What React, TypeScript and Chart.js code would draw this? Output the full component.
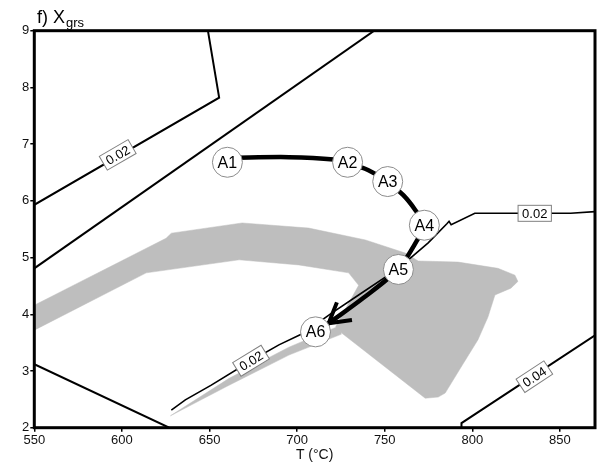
import React, { useEffect, useRef } from 'react';
import { Chart, registerables } from 'chart.js';

Chart.register(...registerables);

const FONT = '"Liberation Sans", Arial, Helvetica, sans-serif';

// Axis ticks
const X_TICKS = [550, 600, 650, 700, 750, 800, 850];
const Y_TICKS = [2, 3, 4, 5, 6, 7, 8, 9];

// Isopleth lines (T in °C, P)
const ISO_A_T = [550, 655.5, 649.2];
const ISO_A_P = [5.93, 7.82, 8.98];
const ISO_B_T = [550, 744];
const ISO_B_P = [4.81, 9.0];
const ISO_C_T = [550, 627];
const ISO_C_P = [3.12, 2.0];
const ISO_D_T = [628.2, 636.2, 651.0, 673.7, 689.6, 703.8, 719.7, 735.1, 757.8, 774.8, 785.6, 786.7, 787.9, 801.4, 856.1, 870];
const ISO_D_P = [2.31, 2.49, 2.75, 3.18, 3.46, 3.67, 4.02, 4.34, 4.81, 5.26, 5.60, 5.64, 5.58, 5.78, 5.78, 5.81];
const ISO_E_T = [793.8, 793.8, 870];
const ISO_E_P = [2.0, 2.08, 3.63];

// Isopleth labels
const ISO_LABEL_TEXT = ['0.02', '0.02', '0.02', '0.04'];
const ISO_LABEL_T = [597.6, 673.7, 835.6, 835.4];
const ISO_LABEL_P = [6.81, 3.18, 5.78, 2.9];
const ISO_LABEL_LINE = [0, 3, 3, 4];

// Gray stability field
const FIELD_T = [550.0, 625.2, 628.2, 668.6, 706.6, 739.0, 761.7, 769.1, 791.9, 814.6, 824.3, 826.0, 822.0, 812.9, 808.9, 803.2, 793.6, 784.5, 780.5, 773.1, 725.4, 722.0, 735.1, 729.4, 701.0, 666.9, 613.9, 550.0];
const FIELD_P = [4.16, 5.34, 5.43, 5.61, 5.52, 5.31, 5.08, 4.94, 4.92, 4.81, 4.69, 4.58, 4.46, 4.34, 3.95, 3.55, 3.07, 2.61, 2.54, 2.52, 3.67, 3.78, 4.51, 4.73, 4.87, 4.96, 4.73, 3.72];
const SLIVER_T = [723.7, 695.3, 661.2, 627.7, 660.0, 695.3, 725.4];
const SLIVER_P = [3.79, 3.42, 2.87, 2.21, 2.73, 3.28, 3.65];

// P-T path
const PATH_T = [662.3, 695.3, 720.9, 728.8, 740.7, 751.5, 760.6, 767.4, 772.6, 768.6, 757.8, 737.9, 718.0];
const PATH_P = [6.76, 6.77, 6.73, 6.67, 6.54, 6.34, 6.10, 5.84, 5.57, 5.31, 4.80, 4.29, 3.84];
const ARROW_T = [722.7, 718.0, 731.3];
const ARROW_P = [4.21, 3.84, 3.90];

// Stations
const STATION_NAMES = ['A1', 'A2', 'A3', 'A4', 'A5', 'A6'];
const STATION_T = [660.2, 728.8, 751.7, 772.6, 757.8, 710.5];
const STATION_P = [6.68, 6.68, 6.34, 5.57, 4.79, 3.69];

const pts = (ts: number[], ps: number[]) => ts.map((t, i) => ({ x: t, y: ps[i] }));

const ISO_LINES = [
  pts(ISO_A_T, ISO_A_P),
  pts(ISO_B_T, ISO_B_P),
  pts(ISO_C_T, ISO_C_P),
  pts(ISO_D_T, ISO_D_P),
  pts(ISO_E_T, ISO_E_P),
];

const overlayPlugin = {
  id: 'overlay',
  afterDatasetsDraw(chart: any) {
    const { ctx, scales, chartArea } = chart;
    const xs = scales.x;
    const ys = scales.y;

    // isopleth labels
    ISO_LABEL_TEXT.forEach((txt, i) => {
      const px = xs.getPixelForValue(ISO_LABEL_T[i]);
      const py = ys.getPixelForValue(ISO_LABEL_P[i]);
      const line = ISO_LINES[ISO_LABEL_LINE[i]];
      let ang = 0;
      for (let k = 0; k < line.length - 1; k++) {
        const a = line[k], b = line[k + 1];
        const lo = Math.min(a.x, b.x), hi = Math.max(a.x, b.x);
        if (ISO_LABEL_T[i] >= lo && ISO_LABEL_T[i] <= hi && hi > lo) {
          const dx = xs.getPixelForValue(b.x) - xs.getPixelForValue(a.x);
          const dy = ys.getPixelForValue(b.y) - ys.getPixelForValue(a.y);
          ang = Math.atan2(dy, dx);
          if (Math.abs(ang) > Math.PI / 2) ang += Math.PI;
          break;
        }
      }
      ctx.save();
      ctx.translate(px, py);
      ctx.rotate(ang);
      ctx.font = `13px ${FONT}`;
      const w = ctx.measureText(txt).width + 8;
      const h = 16;
      ctx.fillStyle = '#ffffff';
      ctx.fillRect(-w / 2, -h / 2, w, h);
      ctx.strokeStyle = '#808080';
      ctx.lineWidth = 1;
      ctx.strokeRect(-w / 2, -h / 2, w, h);
      ctx.fillStyle = '#000';
      ctx.textAlign = 'center';
      ctx.textBaseline = 'middle';
      ctx.fillText(txt, 0, 1);
      ctx.restore();
    });

    // station labels
    ctx.save();
    ctx.font = `16px ${FONT}`;
    ctx.fillStyle = '#000';
    ctx.textAlign = 'center';
    ctx.textBaseline = 'middle';
    STATION_NAMES.forEach((n, i) => {
      const px = xs.getPixelForValue(STATION_T[i]);
      const py = ys.getPixelForValue(STATION_P[i]);
      ctx.fillText(n, px, py + 1);
    });
    ctx.restore();

    // frame
    ctx.save();
    ctx.strokeStyle = '#000';
    ctx.lineWidth = 3;
    ctx.strokeRect(chartArea.left, chartArea.top, chartArea.right - chartArea.left, chartArea.bottom - chartArea.top);
    ctx.restore();

    // title
    ctx.save();
    ctx.fillStyle = '#000';
    ctx.textAlign = 'left';
    ctx.textBaseline = 'alphabetic';
    ctx.font = `18px ${FONT}`;
    const main = 'f) X';
    ctx.fillText(main, 37, 23);
    const mw = ctx.measureText(main).width;
    ctx.font = `13px ${FONT}`;
    ctx.fillText('grs', 37 + mw + 1, 27);
    ctx.restore();
  },
};

export default function App() {
  const ref = useRef<HTMLCanvasElement | null>(null);

  useEffect(() => {
    if (!ref.current) return;
    const lineDs = (data: any[], width: number) => ({
      data,
      borderColor: '#000',
      borderWidth: width,
      pointRadius: 0,
      tension: 0,
      fill: false,
    });
    const chart = new Chart(ref.current, {
      type: 'line',
      data: {
        datasets: [
          {
            data: pts(STATION_T, STATION_P),
            showLine: false,
            pointRadius: 15,
            pointHoverRadius: 15,
            pointBackgroundColor: '#ffffff',
            pointBorderColor: '#8c8c8c',
            pointBorderWidth: 1,
          } as any,
          { ...lineDs(pts(ARROW_T, ARROW_P), 4), borderJoinStyle: 'miter' },
          { ...lineDs(pts(PATH_T, PATH_P), 4.5), tension: 0.3, borderCapStyle: 'round' },
          lineDs(ISO_LINES[0], 2),
          lineDs(ISO_LINES[1], 2),
          lineDs(ISO_LINES[2], 2),
          lineDs(ISO_LINES[3], 1.6),
          lineDs(ISO_LINES[4], 2),
          {
            data: pts(SLIVER_T, SLIVER_P),
            borderColor: '#bebebe',
            borderWidth: 0.5,
            backgroundColor: '#bebebe',
            pointRadius: 0,
            tension: 0,
            fill: 'shape',
          } as any,
          {
            data: pts(FIELD_T, FIELD_P),
            borderColor: '#bebebe',
            borderWidth: 0.5,
            backgroundColor: '#bebebe',
            pointRadius: 0,
            tension: 0,
            fill: 'shape',
          } as any,
        ],
      },
      options: {
        responsive: false,
        animation: false,
        devicePixelRatio: 1,
        layout: { padding: { top: 30.7, right: 13.5, left: 0, bottom: 0 } },
        plugins: { legend: { display: false }, tooltip: { enabled: false } },
        events: [],
        scales: {
          x: {
            type: 'linear',
            min: 550,
            max: 870,
            afterFit: (s: any) => { s.height = 40.3; },
            afterBuildTicks: (s: any) => { s.ticks = X_TICKS.map((v) => ({ value: v })); },
            ticks: { color: '#111', font: { family: FONT, size: 13 }, padding: 1, maxRotation: 0 },
            grid: { drawOnChartArea: false, drawTicks: true, tickLength: 4, color: '#000', lineWidth: 1.5 },
            border: { display: false },
            title: { display: true, text: 'T (°C)', color: '#111', font: { family: FONT, size: 14 }, padding: { top: 0, bottom: 4 } },
          },
          y: {
            type: 'linear',
            min: 2,
            max: 9,
            afterFit: (s: any) => { s.width = 34.3; },
            afterBuildTicks: (s: any) => { s.ticks = Y_TICKS.map((v) => ({ value: v })); },
            ticks: { color: '#111', font: { family: FONT, size: 13 }, padding: 1 },
            grid: { drawOnChartArea: false, drawTicks: true, tickLength: 4, color: '#000', lineWidth: 1.5 },
            border: { display: false },
          },
        },
      } as any,
      plugins: [overlayPlugin],
    });
    return () => chart.destroy();
  }, []);

  return (
    <div style={{ position: 'absolute', left: 0, top: 0, width: 611, height: 468, background: '#fff' }}>
      <canvas ref={ref} width={611} height={468} style={{ display: 'block' }} />
    </div>
  );
}
